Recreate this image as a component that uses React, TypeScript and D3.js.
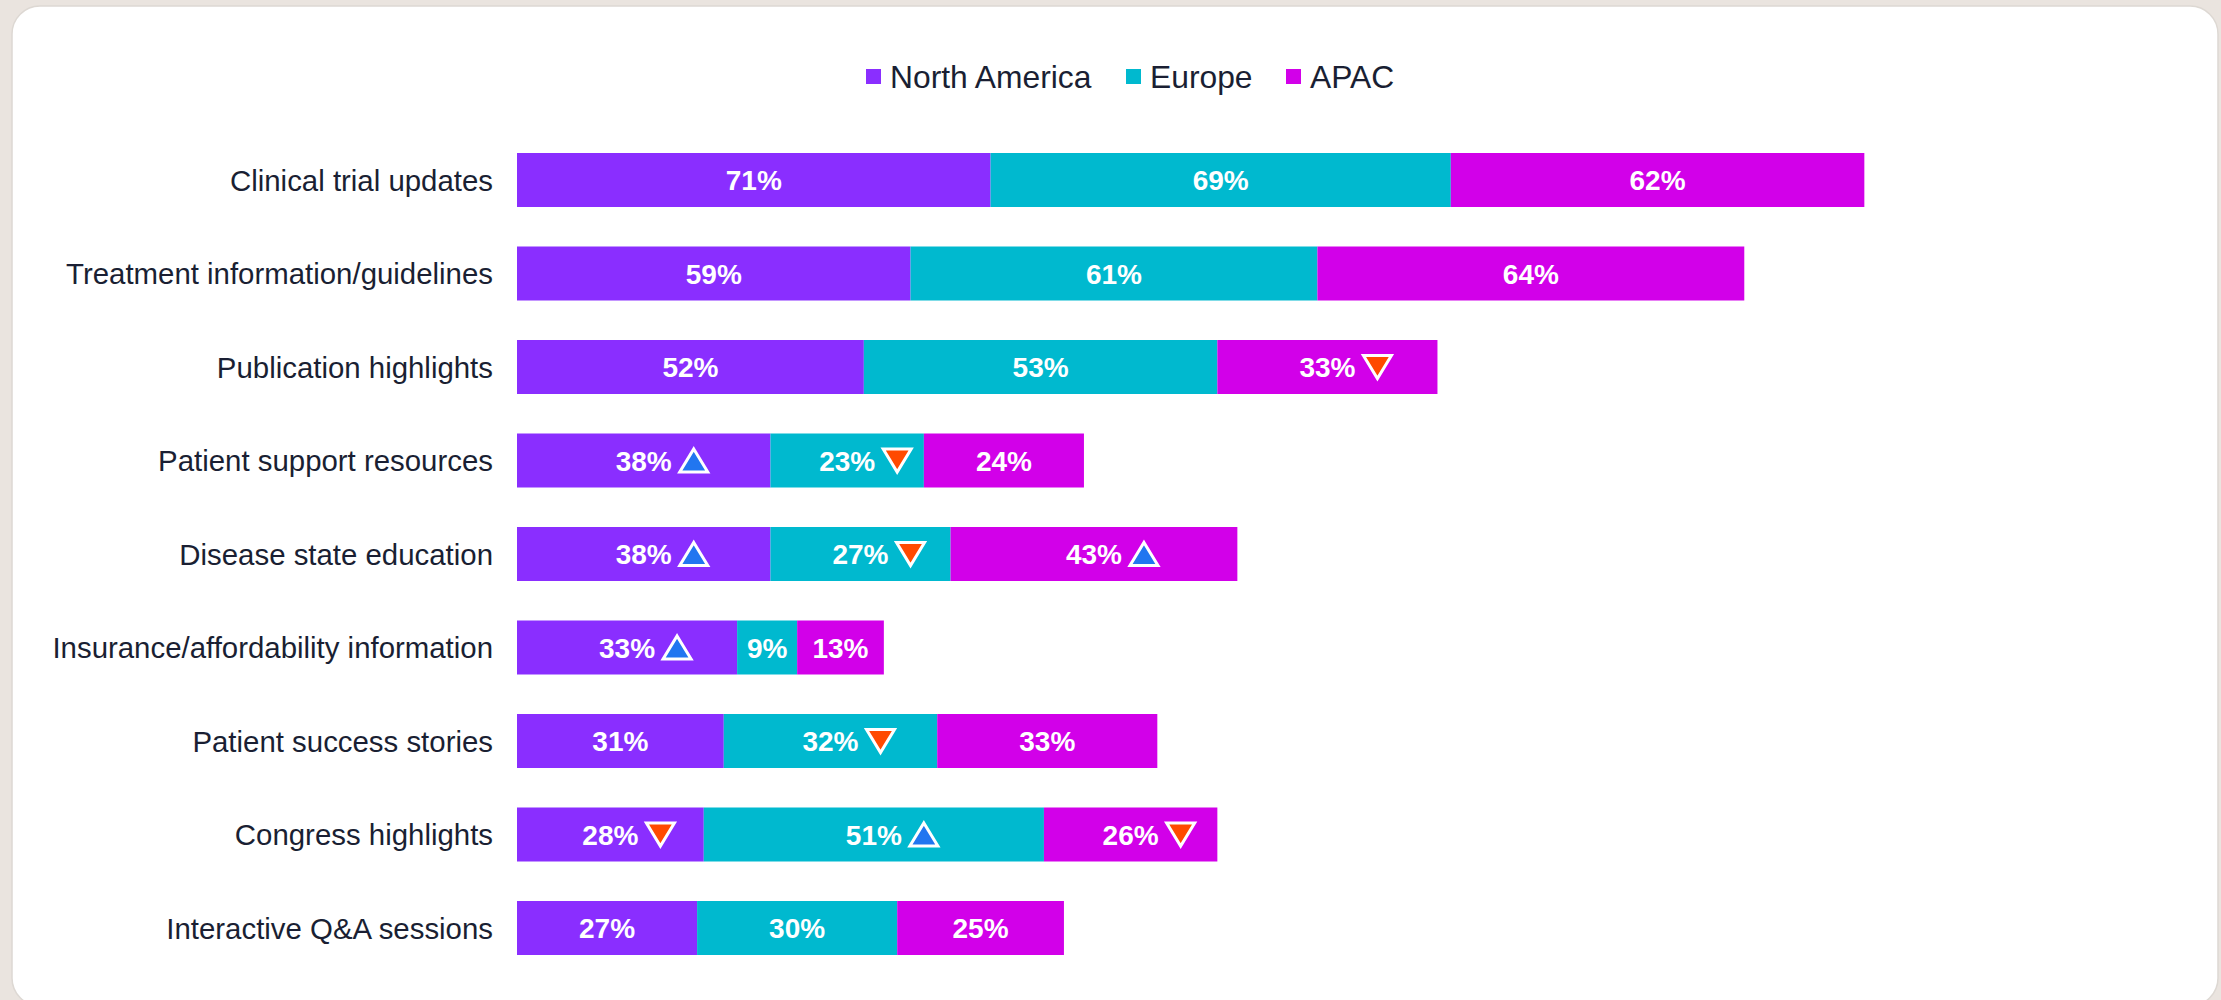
import React from "react";
import * as d3 from "d3";

const categories = [
  "Clinical trial updates",
  "Treatment information/guidelines",
  "Publication highlights",
  "Patient support resources",
  "Disease state education",
  "Insurance/affordability information",
  "Patient success stories",
  "Congress highlights",
  "Interactive Q&A sessions",
];

const seriesNames = ["North America", "Europe", "APAC"];
const northAmerica = [71, 59, 52, 38, 38, 33, 31, 28, 27];
const europe = [69, 61, 53, 23, 27, 9, 32, 51, 30];
const apac = [62, 64, 33, 24, 43, 13, 33, 26, 25];

// significance markers: 1 = up, -1 = down, 0 = none
const northAmericaSig = [0, 0, 0, 1, 1, 1, 0, -1, 0];
const europeSig = [0, 0, 0, -1, -1, 0, -1, 1, 0];
const apacSig = [0, 0, -1, 0, 1, 0, 0, -1, 0];

const colors = ["#8A2EFF", "#00B9CF", "#D200E9"];
const upColor = "#2176F0";
const downColor = "#FF4A00";

const W = 2221;
const H = 1000;
const FONT = "'Liberation Sans', Arial, Helvetica, sans-serif";

export default function App() {
  const values = [northAmerica, europe, apac];
  const sigs = [northAmericaSig, europeSig, apacSig];

  const step = 93.5;
  const p = 1 - 54 / step;
  const r0 = 153 - step * p;
  const y = d3
    .scaleBand<string>()
    .domain(categories)
    .range([r0, r0 + step * (categories.length + p)])
    .padding(p);

  const x = d3.scaleLinear().domain([0, 100]).range([517, 517 + 667]);

  const stackData = categories.map((c, i) => ({
    cat: c,
    "North America": northAmerica[i],
    Europe: europe[i],
    APAC: apac[i],
  }));
  const stacked = d3.stack<any>().keys(seriesNames)(stackData);

  const bw = y.bandwidth();
  const valueFont = 28;
  const triW = 28;
  const triH = 23;
  const gap = 8;

  // legend layout
  const legendFont = 31.8;
  const legendItems = [
    { name: seriesNames[0], x: 866 },
    { name: seriesNames[1], x: 1126 },
    { name: seriesNames[2], x: 1286 },
  ];

  const triPath = (cx: number, cy: number, dir: number) => {
    const hw = triW / 2;
    const hh = triH / 2;
    if (dir > 0) {
      return `M${cx},${cy - hh} L${cx + hw},${cy + hh} L${cx - hw},${cy + hh} Z`;
    }
    return `M${cx - hw},${cy - hh} L${cx + hw},${cy - hh} L${cx},${cy + hh} Z`;
  };

  const measure = (t: string) => {
    // approximate Arial Bold width
    const wmap: Record<string, number> = { "%": 0.889 };
    let w = 0;
    for (const ch of t) w += wmap[ch] ?? 0.556;
    return w * valueFont;
  };

  return (
    <svg
      width={W}
      height={H}
      style={{ position: "absolute", left: 0, top: 0, display: "block" }}
    >
      <rect x={0} y={0} width={W} height={H} fill="#EAE4DF" />
      <rect
        x={12}
        y={6}
        width={2206}
        height={1000}
        rx={28}
        ry={28}
        fill="#FFFFFF"
        stroke="#DDD8D3"
        strokeWidth={1.5}
      />

      {/* legend */}
      <g fontFamily={FONT} fontSize={legendFont} fill="#1A1F33">
        {legendItems.map((it, i) => (
          <g key={it.name}>
            <rect x={it.x} y={69} width={15} height={15} fill={colors[i]} />
            <text x={it.x + 24} y={88}>
              {it.name}
            </text>
          </g>
        ))}
      </g>

      {/* category labels */}
      <g fontFamily={FONT} fontSize={29.4} fill="#1A1F33">
        {categories.map((c) => (
          <text
            key={c}
            x={493}
            y={(y(c) as number) + bw / 2}
            dy="0.36em"
            textAnchor="end"
          >
            {c}
          </text>
        ))}
      </g>

      {/* bars */}
      {stacked.map((layer, si) => (
        <g key={layer.key} fill={colors[si]}>
          {layer.map((d, i) => (
            <rect
              key={i}
              x={x(d[0])}
              y={y(categories[i]) as number}
              width={x(d[1]) - x(d[0])}
              height={bw}
            />
          ))}
        </g>
      ))}

      {/* value labels */}
      {stacked.map((layer, si) => (
        <g key={layer.key + "-lbl"}>
          {layer.map((d, i) => {
            const cx = (x(d[0]) + x(d[1])) / 2;
            const cy = (y(categories[i]) as number) + bw / 2;
            const v = values[si][i];
            const label = `${v}%`;
            const s = sigs[si][i];
            const tw = measure(label);
            return (
              <g key={i}>
                <text
                  x={cx}
                  y={cy}
                  dy="0.36em"
                  textAnchor="middle"
                  fontFamily={FONT}
                  fontWeight="bold"
                  fontSize={valueFont}
                  fill="#FFFFFF"
                >
                  {label}
                </text>
                {s !== 0 && (
                  <path
                    d={triPath(cx + tw / 2 + gap + triW / 2, cy, s)}
                    fill={s > 0 ? upColor : downColor}
                    stroke="#FFFFFF"
                    strokeWidth={3}
                    strokeLinejoin="miter"
                  />
                )}
              </g>
            );
          })}
        </g>
      ))}
    </svg>
  );
}
